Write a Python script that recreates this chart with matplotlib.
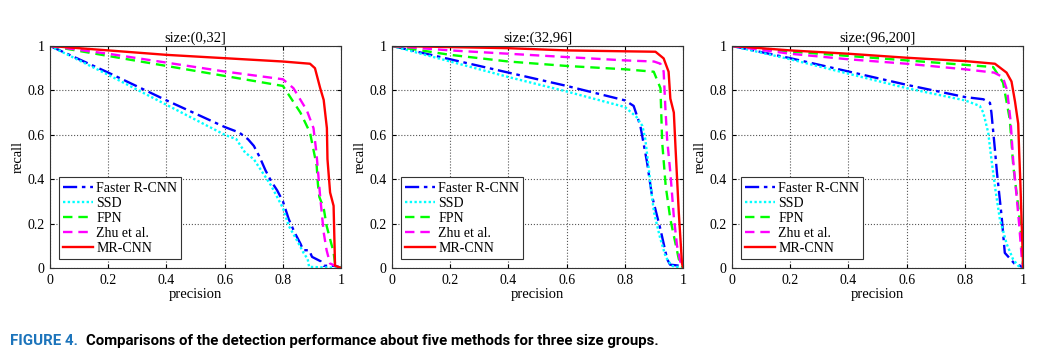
import numpy as np
import matplotlib.pyplot as plt
from matplotlib.ticker import FormatStrFormatter

plt.rcParams['font.family'] = ['Liberation Serif', 'DejaVu Serif']

titles = ['size:(0,32]', 'size:(32,96]', 'size:(96,200]']
methods = ['Faster R-CNN', 'SSD', 'FPN', 'Zhu et al.', 'MR-CNN']

# panel 1: size (0,32]
frcnn_p1 = [0, 0.2, 0.4, 0.6, 0.65, 0.68, 0.7, 0.72, 0.74, 0.76, 0.78, 0.8, 0.82, 0.84, 0.86, 0.87, 0.89, 0.9, 0.93, 0.94, 0.98, 1]
frcnn_r1 = [1, 0.88, 0.755, 0.635, 0.61, 0.58, 0.55, 0.5, 0.44, 0.39, 0.35, 0.3, 0.22, 0.16, 0.11, 0.08, 0.08, 0.05, 0.03, 0.01, 0.01, 0]
ssd_p1 = [0, 0.2, 0.4, 0.6, 0.64, 0.67, 0.7, 0.72, 0.76, 0.8, 0.82, 0.85, 0.87, 0.885, 0.89, 1]
ssd_r1 = [1, 0.87, 0.735, 0.6, 0.58, 0.52, 0.49, 0.45, 0.37, 0.27, 0.19, 0.12, 0.07, 0.04, 0.005, 0]
fpn_p1 = [0, 0.2, 0.4, 0.6, 0.8, 0.825, 0.86, 0.893, 0.916, 0.92, 0.925, 0.94, 0.95, 0.974, 0.98, 1]
fpn_r1 = [1, 0.955, 0.91, 0.865, 0.82, 0.77, 0.7, 0.61, 0.46, 0.38, 0.32, 0.27, 0.19, 0.07, 0.01, 0]
zhu_p1 = [0, 0.2, 0.4, 0.6, 0.8, 0.836, 0.882, 0.905, 0.915, 0.928, 0.94, 0.95, 0.962, 0.98, 1]
zhu_r1 = [1, 0.965, 0.925, 0.885, 0.85, 0.81, 0.71, 0.63, 0.52, 0.32, 0.16, 0.08, 0.02, 0.01, 0]
mr_p1 = [0, 0.2, 0.4, 0.6, 0.8, 0.893, 0.91, 0.928, 0.94, 0.951, 0.953, 0.962, 0.974, 0.979, 1]
mr_r1 = [1, 0.98, 0.96, 0.945, 0.93, 0.92, 0.9, 0.81, 0.757, 0.63, 0.49, 0.34, 0.28, 0.01, 0]

# panel 2: size (32,96]
frcnn_p2 = [0, 0.2, 0.4, 0.6, 0.8, 0.83, 0.853, 0.876, 0.893, 0.922, 0.945, 0.955, 0.99, 1]
frcnn_r2 = [1, 0.94, 0.88, 0.82, 0.755, 0.73, 0.64, 0.476, 0.325, 0.174, 0.04, 0.015, 0.01, 0]
ssd_p2 = [0, 0.2, 0.4, 0.6, 0.8, 0.84, 0.86, 0.87, 0.88, 0.89, 0.9, 0.92, 0.94, 0.96, 1]
ssd_r2 = [1, 0.93, 0.86, 0.795, 0.725, 0.68, 0.64, 0.58, 0.47, 0.35, 0.25, 0.14, 0.05, 0.01, 0]
fpn_p2 = [0, 0.2, 0.4, 0.6, 0.8, 0.899, 0.922, 0.928, 0.94, 0.956, 0.985, 1]
fpn_r2 = [1, 0.96, 0.93, 0.91, 0.895, 0.884, 0.81, 0.566, 0.37, 0.22, 0.04, 0]
zhu_p2 = [0, 0.2, 0.4, 0.6, 0.8, 0.9, 0.922, 0.933, 0.939, 0.945, 0.956, 0.968, 0.979, 0.99, 1]
zhu_r2 = [1, 0.98, 0.965, 0.95, 0.935, 0.93, 0.92, 0.885, 0.72, 0.58, 0.43, 0.23, 0.1, 0.03, 0]
mr_p2 = [0, 0.2, 0.4, 0.6, 0.8, 0.905, 0.933, 0.95, 0.956, 0.968, 0.974, 0.985, 0.996, 1]
mr_r2 = [1, 0.995, 0.99, 0.98, 0.976, 0.974, 0.944, 0.884, 0.763, 0.7, 0.536, 0.25, 0.02, 0]

# panel 3: size (96,200]
frcnn_p3 = [0, 0.2, 0.4, 0.6, 0.8, 0.863, 0.886, 0.891, 0.903, 0.91, 0.926, 0.937, 0.97, 0.99, 1]
frcnn_r3 = [1, 0.945, 0.885, 0.825, 0.77, 0.76, 0.744, 0.7, 0.534, 0.43, 0.233, 0.068, 0.02, 0.01, 0]
ssd_p3 = [0, 0.2, 0.4, 0.6, 0.8, 0.851, 0.863, 0.88, 0.89, 0.905, 0.92, 0.943, 0.965, 0.983, 1]
ssd_r3 = [1, 0.94, 0.875, 0.81, 0.755, 0.73, 0.7, 0.61, 0.5, 0.35, 0.22, 0.11, 0.04, 0.01, 0]
fpn_p3 = [0, 0.2, 0.4, 0.6, 0.8, 0.897, 0.931, 0.954, 0.966, 0.983, 0.994, 1]
fpn_r3 = [1, 0.975, 0.955, 0.935, 0.915, 0.905, 0.835, 0.67, 0.46, 0.28, 0.13, 0]
zhu_p3 = [0, 0.2, 0.4, 0.6, 0.8, 0.9, 0.93, 0.945, 0.957, 0.966, 0.977, 0.986, 0.995, 1]
zhu_r3 = [1, 0.965, 0.94, 0.92, 0.895, 0.88, 0.86, 0.8, 0.66, 0.48, 0.33, 0.2, 0.05, 0]
mr_p3 = [0, 0.2, 0.4, 0.6, 0.8, 0.903, 0.943, 0.96, 0.972, 0.983, 0.987, 0.99, 0.995, 1]
mr_r3 = [1, 0.98, 0.965, 0.947, 0.932, 0.92, 0.88, 0.84, 0.75, 0.65, 0.5, 0.4, 0.2, 0]

panels = [
    [(frcnn_p1, frcnn_r1), (ssd_p1, ssd_r1), (fpn_p1, fpn_r1), (zhu_p1, zhu_r1), (mr_p1, mr_r1)],
    [(frcnn_p2, frcnn_r2), (ssd_p2, ssd_r2), (fpn_p2, fpn_r2), (zhu_p2, zhu_r2), (mr_p2, mr_r2)],
    [(frcnn_p3, frcnn_r3), (ssd_p3, ssd_r3), (fpn_p3, fpn_r3), (zhu_p3, zhu_r3), (mr_p3, mr_r3)],
]
colors = ['#0000ff', '#00ffff', '#00ff00', '#ff00ff', '#ff0000']
styles = [(0, (6, 2, 1.5, 2)), (0, (1, 1)), (0, (4, 2.5)), (0, (4, 2.5)), '-']

fig = plt.figure(figsize=(10.51, 3.6), dpi=100)
lefts = [0.0476, 0.373, 0.6965]
for i, left in enumerate(lefts):
    ax = fig.add_axes([left, 0.2556, 0.277, 0.6167])
    for (p, r), c, ls, name in zip(panels[i], colors, styles, methods):
        ax.plot(p, r, color=c, linestyle=ls, linewidth=1.7, label=name)
    ax.set_xlim(0, 1)
    ax.set_ylim(0, 1)
    ax.set_xticks(np.arange(0, 1.01, 0.2))
    ax.set_yticks(np.arange(0, 1.01, 0.2))
    ax.xaxis.set_major_formatter(FormatStrFormatter('%g'))
    ax.yaxis.set_major_formatter(FormatStrFormatter('%g'))
    ax.tick_params(direction='in', top=True, right=True, labelsize=10, length=3, pad=4)
    ax.grid(True, linestyle=':', color='#555555', linewidth=0.8)
    for s in ax.spines.values():
        s.set_linewidth(0.8)
        s.set_color('#333333')
    ax.set_title(titles[i], fontsize=10.5, pad=3)
    ax.set_xlabel('precision', fontsize=10.5, labelpad=1)
    ax.set_ylabel('recall', fontsize=10.5, labelpad=2)
    leg = ax.legend(loc='lower left', bbox_to_anchor=(0.03, 0.04), fontsize=10,
                    fancybox=False, framealpha=1, edgecolor='#333333',
                    handlelength=2.2, handletextpad=0.2, labelspacing=0.15,
                    borderpad=0.3, borderaxespad=0)
    leg.get_frame().set_linewidth(0.8)

cap_font = ['Roboto', 'DejaVu Sans']
t1 = fig.text(0.0095, 0.042, 'FIGURE 4.', color='#1c74bb', fontsize=10.8,
              fontweight='bold', family=cap_font)
fig.canvas.draw()
bb = t1.get_window_extent()
fig.text((bb.x1 + 8) / fig.bbox.width, 0.042,
         'Comparisons of the detection performance about five methods for three size groups.',
         color='black', fontsize=10.8, fontweight='bold', family=cap_font)

fig.savefig('out.png', dpi=100)
